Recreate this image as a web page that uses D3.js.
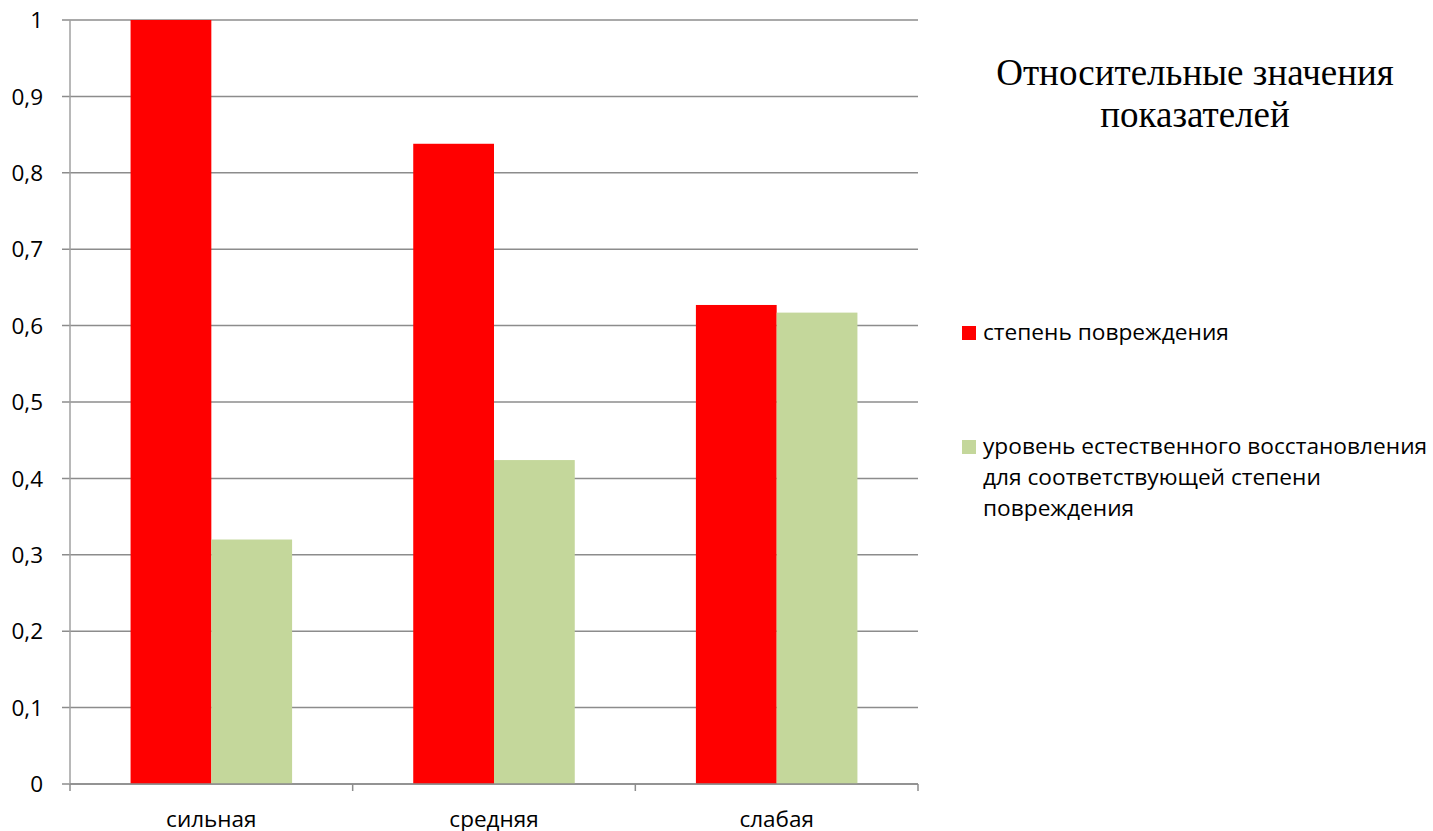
<!DOCTYPE html>
<html>
<head>
  <meta charset="utf-8">
  <style>
    body{ margin:0; background:#fff; }
    .tick-label{ font-family:"Open Sans", sans-serif; font-size:22.5px; fill:#000; }
    .legend-label{ font-family:"Open Sans", sans-serif; font-size:22.7px; fill:#000; }
    .title{ font-family:"Liberation Serif", "Times New Roman", serif; font-size:37px; fill:#000; }
    .grid line{ stroke:#8c8c8c; stroke-width:1.5px; }
  </style>
  <script src="https://d3js.org/d3.v7.min.js"></script>
</head>
<body>
<div class="chart"></div>
<script>
const categories = ['сильная', 'средняя', 'слабая'];
const seriesNames = ['степень повреждения', 'уровень естественного восстановления для соответствующей степени повреждения'];
const damage = [1.0, 0.838, 0.627];
const recovery = [0.32, 0.424, 0.617];
const yTicks = [0, 0.1, 0.2, 0.3, 0.4, 0.5, 0.6, 0.7, 0.8, 0.9, 1];
const colors = ['#ff0000', '#c4d79b'];
const legendLines = [
  ['степень повреждения'],
  ['уровень естественного восстановления', 'для соответствующей степени', 'повреждения']
];
const titleLines = ['Относительные значения', 'показателей'];

const width = 1433, height = 831;
const margin = {left:70, right:515, top:20, bottom:47};

const svg = d3.select('.chart').append('svg')
  .attr('width', width)
  .attr('height', height);

const x0 = d3.scaleBand()
  .domain(categories)
  .range([margin.left, width - margin.right]);

const x1 = d3.scaleBand()
  .domain([0, 1])
  .range([0, x0.bandwidth()])
  .paddingOuter(0.75);

const y = d3.scaleLinear()
  .domain([0, 1])
  .range([height - margin.bottom, margin.top]);

// horizontal gridlines
svg.append('g').attr('class', 'grid')
  .selectAll('line')
  .data(yTicks)
  .join('line')
  .attr('x1', margin.left - 8)
  .attr('x2', width - margin.right)
  .attr('y1', d => y(d))
  .attr('y2', d => y(d));

// y axis line
svg.append('line')
  .attr('x1', margin.left).attr('x2', margin.left)
  .attr('y1', y(1)).attr('y2', y(0))
  .attr('stroke', '#a0a0a0').attr('stroke-width', 1.5);

svg.append('g')
  .selectAll('text')
  .data(yTicks)
  .join('text')
  .attr('class', 'tick-label')
  .attr('x', margin.left - 27)
  .attr('y', d => y(d))
  .attr('dy', '0.36em')
  .attr('text-anchor', 'end')
  .text(d => d3.format('.1~f')(d).replace('.', ','));

// bars
const data = categories.map((c, i) => ({cat:c, values:[damage[i], recovery[i]]}));
const groups = svg.append('g')
  .selectAll('g')
  .data(data)
  .join('g')
  .attr('transform', d => `translate(${x0(d.cat)},0)`);

groups.selectAll('rect')
  .data(d => d.values.map((v, k) => ({k, v})))
  .join('rect')
  .attr('x', d => x1(d.k))
  .attr('width', x1.bandwidth())
  .attr('y', d => y(d.v))
  .attr('height', d => y(0) - y(d.v))
  .attr('fill', d => colors[d.k]);

// x axis line and ticks
svg.append('line')
  .attr('x1', margin.left).attr('x2', width - margin.right)
  .attr('y1', y(0)).attr('y2', y(0))
  .attr('stroke', '#8c8c8c').attr('stroke-width', 1.5);

const boundaries = categories.map(c => x0(c)).concat([x0.range()[1]]);
svg.append('g')
  .selectAll('line')
  .data(boundaries)
  .join('line')
  .attr('x1', d => d).attr('x2', d => d)
  .attr('y1', y(0)).attr('y2', y(0) + 7)
  .attr('stroke', '#8c8c8c').attr('stroke-width', 1.5);

svg.append('g')
  .selectAll('text')
  .data(categories)
  .join('text')
  .attr('class', 'tick-label')
  .attr('x', d => x0(d) + x0.bandwidth() / 2)
  .attr('y', 827)
  .attr('text-anchor', 'middle')
  .text(d => d);

// title
svg.append('text')
  .attr('class', 'title')
  .attr('text-anchor', 'middle')
  .selectAll('tspan')
  .data(titleLines)
  .join('tspan')
  .attr('x', 1195)
  .attr('y', (d, i) => 85 + i * 42)
  .text(d => d);

// legend
const legendY = [340, 454];
const legend = svg.append('g')
  .selectAll('g')
  .data(seriesNames)
  .join('g')
  .attr('transform', (d, i) => `translate(962,${legendY[i]})`);

legend.append('rect')
  .attr('x', 0).attr('y', -14)
  .attr('width', 14).attr('height', 14)
  .attr('fill', (d, i) => colors[i]);

legend.append('text')
  .attr('class', 'legend-label')
  .selectAll('tspan')
  .data((d, i) => legendLines[i])
  .join('tspan')
  .attr('x', 21)
  .attr('y', (d, j) => j * 31)
  .text(d => d);
</script>
</body>
</html>
